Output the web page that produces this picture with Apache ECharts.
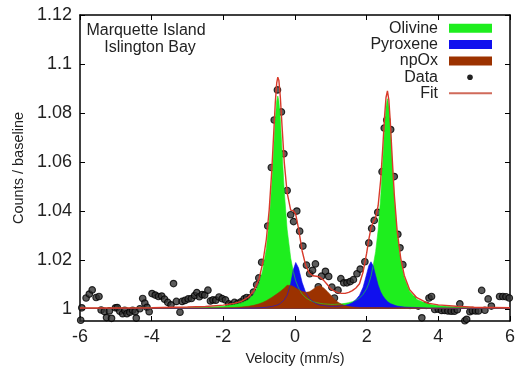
<!DOCTYPE html>
<html><head><meta charset="utf-8">
<script src="https://cdn.jsdelivr.net/npm/echarts@6/dist/echarts.min.js"></script>
<style>html,body{margin:0;padding:0;background:#fff}#c{width:518px;height:371px}</style>
</head><body><div id="c"></div>
<script>
const xTicks = [-6, -4, -2, 0, 2, 4, 6];
const yTicks = [1, 1.02, 1.04, 1.06, 1.08, 1.1, 1.12];
const titleLines = ['Marquette Island', 'Islington Bay'];
const legendNames = ['Olivine', 'Pyroxene', 'npOx', 'Data', 'Fit'];

const vGrid = [
  -6, -5, -4, -3, -2.5, -2,
  -1.7, -1.5, -1.3, -1.15, -1.0,
  -0.9, -0.8, -0.72, -0.65, -0.6,
  -0.55, -0.51, -0.48, -0.45, -0.41,
  -0.36, -0.3, -0.22, -0.12, -0.05,
  0.02, 0.1, 0.2, 0.3, 0.4,
  0.5, 0.6, 0.7, 0.8, 0.9,
  1.0, 1.1, 1.2, 1.3, 1.4,
  1.5, 1.6, 1.7, 1.8, 1.9,
  2.0, 2.06, 2.12, 2.18, 2.25,
  2.32, 2.39, 2.45, 2.5, 2.54,
  2.58, 2.62, 2.66, 2.71, 2.77,
  2.85, 2.95, 3.05, 3.2, 3.4,
  3.7, 4.0, 4.5, 5.0, 5.5,
  6.0
];
const olivine = [
  1.0002, 1.0002, 1.0003, 1.0004, 1.0006, 1.0010,
  1.0016, 1.0023, 1.0037, 1.0058, 1.0102,
  1.0158, 1.0246, 1.0358, 1.0506, 1.0640,
  1.0775, 1.0850, 1.0869, 1.0850, 1.0775,
  1.0640, 1.0481, 1.0325, 1.0207, 1.0154,
  1.0114, 1.0084, 1.0060, 1.0045, 1.0036,
  1.0029, 1.0025, 1.0022, 1.0020, 1.0019,
  1.0018, 1.0018, 1.0019, 1.0020, 1.0022,
  1.0025, 1.0029, 1.0035, 1.0044, 1.0059,
  1.0082, 1.0104, 1.0133, 1.0175, 1.0233,
  1.0321, 1.0452, 1.0604, 1.0740, 1.0825,
  1.0858, 1.0825, 1.0740, 1.0604, 1.0452,
  1.0306, 1.0196, 1.0127, 1.0070, 1.0038,
  1.0019, 1.0012, 1.0007, 1.0005, 1.0004,
  1.0003
];
const pyroxene = [
  1.0001, 1.0001, 1.0001, 1.0002, 1.0002, 1.0002,
  1.0002, 1.0002, 1.0003, 1.0003, 1.0004,
  1.0005, 1.0006, 1.0008, 1.0009, 1.0011,
  1.0013, 1.0015, 1.0016, 1.0019, 1.0022,
  1.0028, 1.0036, 1.0055, 1.0103, 1.0158,
  1.0189, 1.0166, 1.0107, 1.0066, 1.0043,
  1.0029, 1.0020, 1.0015, 1.0013, 1.0011,
  1.0010, 1.0010, 1.0010, 1.0012, 1.0014,
  1.0018, 1.0025, 1.0037, 1.0055, 1.0088,
  1.0142, 1.0176, 1.0192, 1.0176, 1.0136,
  1.0097, 1.0069, 1.0053, 1.0043, 1.0036,
  1.0030, 1.0025, 1.0021, 1.0018, 1.0015,
  1.0011, 1.0009, 1.0007, 1.0006, 1.0005,
  1.0003, 1.0003, 1.0002, 1.0002, 1.0002,
  1.0001
];
const npOx = [
  1.0002, 1.0002, 1.0002, 1.0003, 1.0003, 1.0004,
  1.0005, 1.0007, 1.0010, 1.0014, 1.0020,
  1.0026, 1.0033, 1.0040, 1.0046, 1.0051,
  1.0056, 1.0060, 1.0063, 1.0066, 1.0071,
  1.0077, 1.0084, 1.0096, 1.0095, 1.0091,
  1.0085, 1.0078, 1.0071, 1.0067, 1.0069,
  1.0079, 1.0090, 1.0094, 1.0085, 1.0071,
  1.0055, 1.0039, 1.0027, 1.0018, 1.0012,
  1.0009, 1.0007, 1.0006, 1.0005, 1.0005,
  1.0005, 1.0005, 1.0005, 1.0005, 1.0005,
  1.0005, 1.0005, 1.0005, 1.0004, 1.0004,
  1.0004, 1.0004, 1.0004, 1.0004, 1.0004,
  1.0004, 1.0004, 1.0004, 1.0004, 1.0004,
  1.0003, 1.0003, 1.0003, 1.0002, 1.0002,
  1.0002
];
const fit = [
  1.0003, 1.0003, 1.0004, 1.0007, 1.0009, 1.0015,
  1.0022, 1.0030, 1.0048, 1.0073, 1.0124,
  1.0187, 1.0283, 1.0404, 1.0559, 1.0700,
  1.0842, 1.0923, 1.0946, 1.0933, 1.0866,
  1.0743, 1.0599, 1.0474, 1.0403, 1.0401,
  1.0386, 1.0326, 1.0236, 1.0176, 1.0146,
  1.0135, 1.0133, 1.0129, 1.0116, 1.0099,
  1.0081, 1.0072, 1.0066, 1.0063, 1.0063,
  1.0067, 1.0074, 1.0085, 1.0102, 1.0150,
  1.0227, 1.0283, 1.0328, 1.0354, 1.0372,
  1.0421, 1.0524, 1.0660, 1.0786, 1.0863,
  1.0890, 1.0852, 1.0763, 1.0624, 1.0469,
  1.0319, 1.0207, 1.0136, 1.0078, 1.0045,
  1.0023, 1.0016, 1.0010, 1.0006, 1.0005,
  1.0004
];

const vData = [
  -5.98, -5.95, -5.83, -5.74, -5.66, -5.55, -5.47, -5.41, -5.32, -5.26,
  -5.18, -5.12, -5.01, -4.96, -4.89, -4.81, -4.75, -4.69, -4.61, -4.53,
  -4.46, -4.43, -4.33, -4.25, -4.19, -4.13, -4.07, -3.99, -3.90, -3.81,
  -3.72, -3.64, -3.55, -3.46, -3.39, -3.31, -3.21, -3.15, -3.07, -2.98,
  -2.89, -2.80, -2.74, -2.67, -2.59, -2.52, -2.43, -2.36, -2.29, -2.21,
  -2.12, -2.03, -1.94, -1.85, -1.77, -1.69, -1.60, -1.51, -1.42, -1.35,
  -1.25, -1.16, -1.07, -1.01, -0.93, -0.76, -0.66, -0.58, -0.49, -0.38,
  -0.31, -0.22, -0.12, -0.04, 0.05, 0.13, 0.22, 0.32, 0.41, 0.49,
  0.57, 0.65, 0.74, 0.85, 0.94, 1.03, 1.10, 1.20, 1.28, 1.36,
  1.45, 1.54, 1.63, 1.73, 1.82, 1.95, 2.06, 2.14, 2.21, 2.31,
  2.43, 2.49, 2.56, 2.67, 2.77, 2.87, 2.93, 3.01, 3.12, 3.21,
  3.28, 3.35, 3.44, 3.54, 3.66, 3.74, 3.81, 3.90, 4.00, 4.09,
  4.18, 4.27, 4.36, 4.45, 4.53, 4.60, 4.74, 4.79, 4.88, 4.95,
  5.04, 5.12, 5.21, 5.30, 5.39, 5.48, 5.71, 5.80, 5.89, 5.98
];
const cData = [
  0.9953, 1.0004, 1.0044, 1.0060, 1.0077, 1.0046, 1.0050, 0.9995, 0.9989, 0.9964,
  0.9991, 0.9961, 1.0004, 1.0005, 0.9990, 0.9980, 0.9994, 0.9980, 0.9986, 0.9994,
  0.9988, 0.9962, 1.0000, 1.0042, 1.0023, 1.0006, 0.9988, 1.0062, 1.0056, 1.0050,
  1.0052, 1.0039, 1.0026, 1.0016, 1.0103, 1.0030, 0.9986, 1.0030, 1.0034, 1.0040,
  1.0042, 1.0054, 1.0066, 1.0049, 1.0058, 1.0056, 1.0076, 1.0032, 1.0036, 1.0035,
  1.0048, 1.0041, 1.0036, 1.0020, 1.0015, 1.0026, 1.0022, 1.0028, 1.0040, 1.0046,
  1.0045, 1.0068, 1.0098, 1.0126, 1.0190, 1.0338, 1.0577, 1.0771, 1.0894, 1.0804,
  1.0633, 1.0483, 1.0384, 1.0356, 1.0399, 1.0317, 1.0256, 1.0178, 1.0143, 1.0157,
  1.0183, 1.0090, 1.0133, 1.0153, 1.0132, 1.0088, 1.0044, 1.0076, 1.0123, 1.0106,
  1.0106, 1.0111, 1.0119, 1.0143, 1.0162, 1.0192, 1.0269, 1.0328, 1.0361, 1.0394,
  1.0560, 1.0738, 1.0771, 1.0732, 1.0540, 1.0304, 1.0249, 1.0180, 1.0057, 1.0014,
  1.0037, 1.0017, 1.0011, 0.9963, 1.0014, 1.0044, 1.0050, 0.9997, 0.9998, 0.9993,
  0.9993, 0.9991, 0.9990, 0.9990, 0.9996, 1.0020, 0.9951, 0.9957, 0.9988, 0.9992,
  0.9991, 0.9991, 1.0075, 0.9994, 1.0040, 1.0011, 1.0050, 1.0050, 1.0049, 1.0044
];

const FONT = "'Liberation Sans', Arial, Helvetica, sans-serif";
const TXT = '#222';
const COL_OL = '#1eee1e';
const COL_PY = '#1010ee';
const COL_NP = '#9c3200';
const COL_FIT = '#d83a2a';

const pairs = arr => vGrid.map((v, i) => [v, arr[i]]);
const dataPts = vData.map((v, i) => [v, cData[i]]);
const fmtY = v => String(Number(v.toFixed(2)));

const chart = echarts.init(document.getElementById('c'), null, {renderer: 'canvas'});

function areaSeries(name, arr, color) {
  return {
    name, type: 'line', data: pairs(arr), showSymbol: false, symbol: 'none',
    lineStyle: {width: 0.6, color}, itemStyle: {color},
    areaStyle: {color, opacity: 1, origin: 1},
    silent: true, animation: false, xAxisIndex: 0, yAxisIndex: 0
  };
}

const rowY = [28.3, 44.5, 61, 77.3, 93.3];
const legendText = legendNames.map((n, i) => ({
  type: 'text', x: 438, y: rowY[i],
  style: {text: n, fill: TXT, font: '16px ' + FONT, textAlign: 'right', textVerticalAlign: 'middle'}
}));
const swatchCols = [COL_OL, COL_PY, COL_NP];
const swatches = swatchCols.map((c, i) => ({
  type: 'rect', shape: {x: 449, y: rowY[i] - 4.5, width: 43, height: 9}, style: {fill: c}
}));

chart.setOption({
  backgroundColor: '#fff',
  animation: false,
  grid: {left: 80, right: 6, top: 15, bottom: 41, show: false},
  xAxis: [{
    type: 'value', min: -6, max: 6, interval: 2, position: 'bottom',
    name: 'Velocity (mm/s)', nameLocation: 'middle', nameGap: 30,
    nameTextStyle: {fontFamily: FONT, fontSize: 14.5, color: TXT},
    axisLine: {show: true, onZero: false, lineStyle: {color: '#000', width: 1.5}},
    axisTick: {show: true, inside: true, length: 5, lineStyle: {color: '#000', width: 1}},
    axisLabel: {show: true, fontFamily: FONT, fontSize: 18, color: TXT, margin: 7},
    splitLine: {show: false}
  }, {
    type: 'value', min: -6, max: 6, interval: 2, position: 'top',
    axisLine: {show: true, onZero: false, lineStyle: {color: '#000', width: 1.5}},
    axisTick: {show: true, inside: true, length: 5, lineStyle: {color: '#000', width: 1}},
    axisLabel: {show: false}, splitLine: {show: false}
  }],
  yAxis: [{
    type: 'value', min: 0.995, max: 1.12, position: 'left',
    name: 'Counts / baseline', nameLocation: 'middle', nameGap: 46,
    nameTextStyle: {fontFamily: FONT, fontSize: 14.5, color: TXT},
    axisLine: {show: true, onZero: false, lineStyle: {color: '#000', width: 1.5}},
    axisTick: {show: true, inside: true, length: 5, customValues: yTicks, lineStyle: {color: '#000', width: 1}},
    axisLabel: {show: true, customValues: yTicks, formatter: fmtY, fontFamily: FONT, fontSize: 18, color: TXT, margin: 8},
    splitLine: {show: false}
  }, {
    type: 'value', min: 0.995, max: 1.12, position: 'right',
    axisLine: {show: true, onZero: false, lineStyle: {color: '#000', width: 1.5}},
    axisTick: {show: true, inside: true, length: 5, customValues: yTicks, lineStyle: {color: '#000', width: 1}},
    axisLabel: {show: false, customValues: yTicks}, splitLine: {show: false}
  }],
  series: [
    areaSeries('Olivine', olivine, COL_OL),
    areaSeries('Pyroxene', pyroxene, COL_PY),
    areaSeries('npOx', npOx, COL_NP),
    {
      name: 'Fit', type: 'line', data: pairs(fit), showSymbol: false, symbol: 'none',
      lineStyle: {width: 1.4, color: COL_FIT}, itemStyle: {color: COL_FIT}, silent: true
    },
    {
      name: 'Data', type: 'scatter', data: dataPts, symbol: 'circle', symbolSize: 6.5,
      itemStyle: {color: '#333', borderColor: '#000', borderWidth: 1.2}, silent: true
    }
  ],
  graphic: [
    {type: 'text', x: 146, y: 31, style: {text: titleLines[0], fill: TXT, font: '16px ' + FONT, textAlign: 'center', textVerticalAlign: 'middle'}},
    {type: 'text', x: 150, y: 48, style: {text: titleLines[1], fill: TXT, font: '16px ' + FONT, textAlign: 'center', textVerticalAlign: 'middle'}},
    ...legendText,
    ...swatches,
    {type: 'circle', shape: {cx: 470, cy: rowY[3], r: 2.8}, style: {fill: '#222'}},
    {type: 'line', shape: {x1: 449, y1: rowY[4], x2: 492, y2: rowY[4]}, style: {stroke: '#d06a5a', lineWidth: 2}}
  ]
});
</script>
</body></html>
